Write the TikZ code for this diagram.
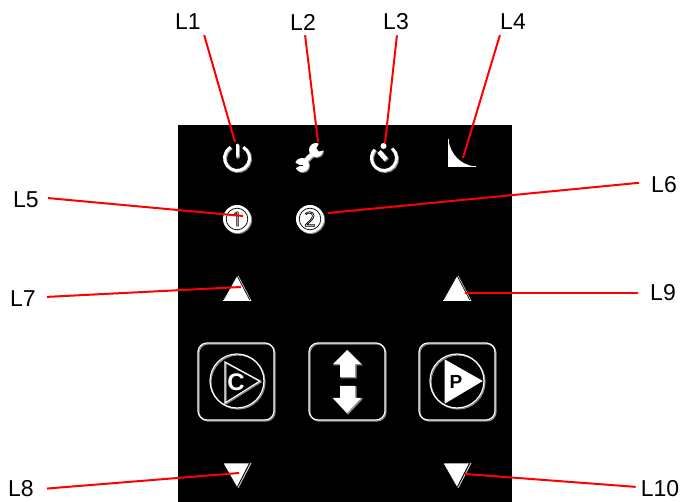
\documentclass[tikz,border=0pt]{standalone}
\usepackage{fontspec}
\setmainfont{Liberation Sans}
\newfontfamily\numfont{Open Sans}
\tikzset{
  lab/.style={font=\fontsize{23}{27}\selectfont,text=black,inner xsep=6pt,inner ysep=5pt},
  labr/.style={lab,inner xsep=12pt},
  lead/.style={draw=red,line width=2pt},
  wl/.style={draw=white,line width=1.2pt},
  gl/.style={draw=black!45,line width=1.2pt},
  tri/.style={fill=white,draw=black,line width=0.6pt},
  trishade/.style={draw=white!80!black,line width=1pt},
}
\newcommand{\outl}[1]{\special{pdf:code q 1 Tr 0.7 w}#1\special{pdf:code Q}}
\begin{document}
\begin{tikzpicture}[x=1pt,y=-1pt]
\useasboundingbox (0,0) rectangle (688,502);
\fill[white] (0,0) rectangle (688,502);
\fill[black] (178,125) rectangle (512,502);

% power icon
\draw[black!45,line width=3pt] (238,159) ++(-60:12.5) arc[start angle=-60,end angle=240,radius=12.5];
\draw[white,line width=3pt] (237,158) ++(-60:12.5) arc[start angle=-60,end angle=240,radius=12.5];
\draw[black!45,line width=3.6pt,line cap=round] (238,146) -- (238,157);
\draw[white,line width=3pt,line cap=round] (237,145) -- (237,156);

% spanner icon
\draw[black!45,line width=4.5pt] (303.6,165.6) .. controls (309,158) and (311,158) .. (317,151);
\fill[black!45] (317,151) circle[radius=7];
\fill[black!45] (303,166) circle[radius=7];
\draw[white,line width=4.5pt] (302.6,164.6) .. controls (308,157) and (310,157) .. (316,150);
\fill[white] (316,150) circle[radius=7];
\fill[white] (302,165) circle[radius=7];
\fill[black] (316.5,148.5) -- (321,139) -- (329,149) -- (319,151.5) -- cycle;
\fill[black] (300.5,165.5) -- (291,160.5) -- (291,170.5) -- cycle;
\draw[black,line width=0.7pt] (293,165) -- (303,165);

% timer icon
\draw[black!45,line width=3pt] (385,159) ++(-50:12.5) arc[start angle=-50,end angle=222,radius=12.5];
\draw[white,line width=3pt] (384,158) ++(-50:12.5) arc[start angle=-50,end angle=222,radius=12.5];
\fill[white] (383.5,146) circle[radius=3];
\draw[black!45,line width=5pt] (380,152.5) -- (387,160.5);
\draw[white,line width=4.5pt] (379,151.5) -- (386,159.5);

% decay curve icon
\fill[white] (448,139) .. controls (451,155) and (460,164) .. (474,166.5) -- (448,166.5) -- cycle;
\draw[white,line width=1pt] (448,139) -- (448,167) -- (476,167);

% numbered indicators
\foreach \cx/\num/\nm in {237/1/one,310/2/two}{
  \fill[black!45] (\cx+1,220) circle[radius=14];
  \fill[white] (\cx,219) circle[radius=14];
  \draw[black,line width=0.7pt] (\cx,219) circle[radius=10.8];
  \node[font=\numfont\fontsize{20}{20}\selectfont,text=black,inner sep=0pt] (ind\nm) at (\cx,219) {\outl{\num}};
}

% up and down triangles
\foreach \cx/\nm in {237/a,457/b}{
  \draw[trishade] (\cx+1,276) -- (\cx+14,301);
  \filldraw[tri] (\cx,275.5) -- (\cx-14,300.5) -- (\cx+13,300.5) -- cycle;
  \draw[white,line width=0.8pt] (\cx-14,300.5) -- (\cx+14,300.5);
  \draw[trishade] (\cx+14,463) -- (\cx+1,488);
  \filldraw[tri] (\cx-14,463) -- (\cx+12.5,463) -- (\cx,487.5) -- cycle;
}

% buttons
\foreach \lx in {198,309,419}{
  \draw[gl,rounded corners=9pt] (\lx+1,344) rectangle (\lx+77,421);
  \draw[wl,rounded corners=9pt] (\lx,343) rectangle (\lx+76,420);
}

% C button
\draw[gl] (238,382) circle[radius=27];
\draw[wl] (237,381) circle[radius=27];
\draw[gl] (226,363) -- (261,382) -- (226,404) -- cycle;
\draw[wl] (225,362) -- (260,381) -- (225,403) -- cycle;
\node[font=\bfseries\fontsize{24}{24}\selectfont,text=white,inner sep=0pt] (cletter) at (236,382) {C};

% arrows button
\draw[black!45,line width=1pt,fill=black!45] (348,351) -- (362,365) -- (356,365) -- (356,378) -- (341,378) -- (341,365) -- (334,365) -- cycle;
\fill[white] (347,350) -- (361,364) -- (355,364) -- (355,377) -- (340,377) -- (340,364) -- (333,364) -- cycle;
\draw[black!45,line width=1pt,fill=black!45] (341,387) -- (356,387) -- (356,399) -- (362,399) -- (348,414) -- (334,399) -- (341,399) -- cycle;
\fill[white] (340,386) -- (355,386) -- (355,398) -- (361,398) -- (347,413) -- (333,398) -- (340,398) -- cycle;

% P button
\draw[gl] (458,382) circle[radius=27];
\draw[wl] (457,381) circle[radius=27];
\filldraw[fill=white,draw=white,line width=0.8pt] (445,360) -- (482,381) -- (445,403) -- cycle;
\node[font=\bfseries\fontsize{19}{19}\selectfont,text=black,inner sep=0pt] (pletter) at (456,382) {P};

% labels
\node[lab] (L1) at (188,22) {L1};
\node[lab] (L2) at (303,22) {L2};
\node[lab] (L3) at (396,22) {L3};
\node[lab] (L4) at (513,22) {L4};
\node[lab,inner xsep=9pt] (L5) at (26,200) {L5};
\node[labr] (L6) at (664,185) {L6};
\node[lab,inner xsep=11pt] (L7) at (23,299) {L7};
\node[lab,inner xsep=13pt] (L8) at (21,489) {L8};
\node[labr] (L9) at (663,293) {L9};
\node[lab,inner xsep=5pt] (L10) at (660,489) {L10};

% leader ends
\coordinate (t1) at (235,142);
\coordinate (t2) at (318,142);
\coordinate (t3) at (385,143);
\coordinate (t4) at (463,158);
\coordinate (t5) at (243,216);
\coordinate (t6) at (328,213);
\coordinate (t7) at (241,287);
\coordinate (t8) at (239,473);
\coordinate (t9) at (465,293);
\coordinate (t10) at (465,474);

\draw[lead] (L1.-39) -- (t1);
\draw[lead] (L2.-81) -- (t2);
\draw[lead] (L3.-86) -- (t3);
\draw[lead] (L4.-135) -- (t4);
\draw[lead] (L5.5) -- (t5);
\draw[lead] (L6.175) -- (t6);
\draw[lead] (L7.5) -- (t7);
\draw[lead] (L8.1) -- (t8);
\draw[lead] (L9.west) -- (t9);
\draw[lead] (L10.175) -- (t10);
\end{tikzpicture}
\end{document}
